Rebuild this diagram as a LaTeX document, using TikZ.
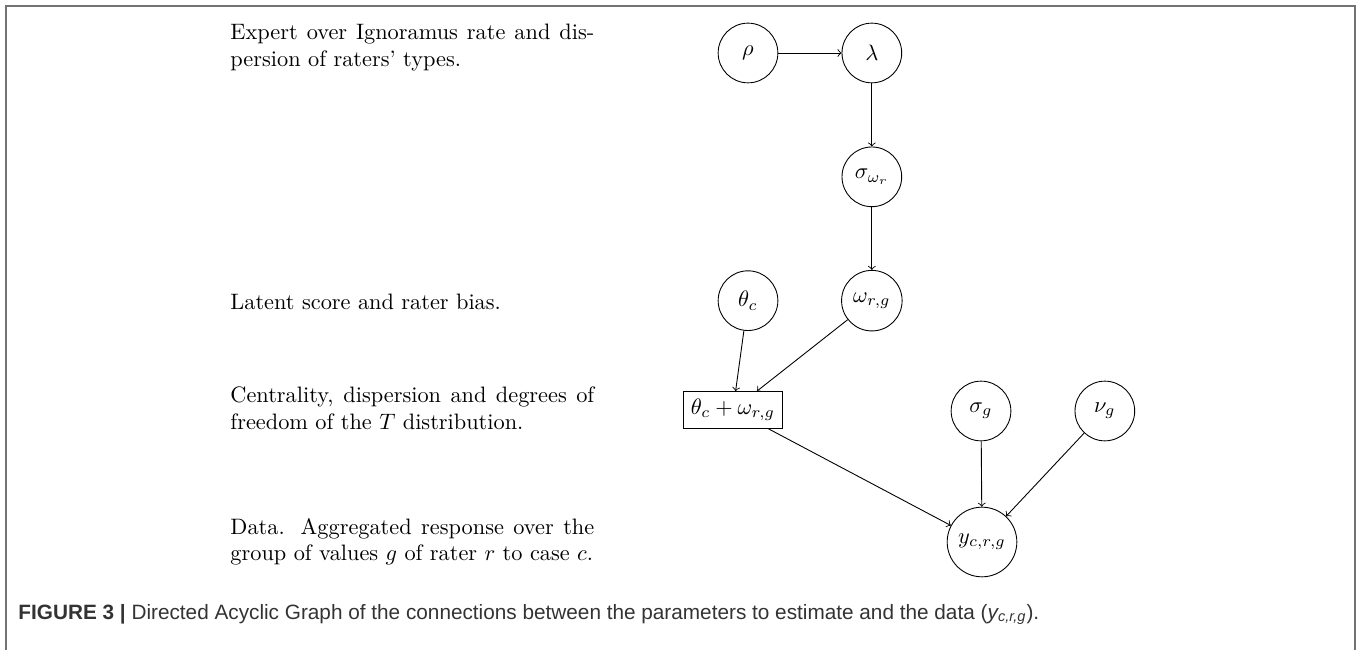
\documentclass[tikz,border=0pt]{standalone}
\usepackage{fontspec}
\newfontfamily\capfont{Liberation Sans}
\usetikzlibrary{positioning}
\tikzset{
  >=to,
  node distance=1.95cm,
  var/.style={circle, draw, minimum size=0.94cm},
  sumbox/.style={rectangle, draw},
  note/.style={anchor=base west, inner sep=0pt, text width=163pt, align=justify},
}

\begin{document}
\begin{tikzpicture}[x=0.015748cm, y=0.015748cm]
      \useasboundingbox (0,0) rectangle (1357,650);
      \draw[black!55, line width=1pt] (6,0) -- (6,644) -- (1355,644) -- (1355,0);

      \node[var]                  (rho)    at (748,597) {$\rho$};
      \node[var,right of=rho]     (lambda) {$\lambda$};
      \node[var,below of=lambda]  (sigw)   {$\sigma_{\omega_r}$};
      \node[var,below of=sigw]    (omega)  {$\omega_{r,g}$};
      \node[var,left of=omega]    (theta)  {$\theta_c$};
      \node[sumbox]               (mu)     at (733,240) {$\theta_c + \omega_{r,g}$};
      \node[var]                  (sigg)   at (981,239) {$\sigma_g$};
      \node[var,right of=sigg]    (nug)    {$\nu_g$};
      \node[var]                  (ycrg)   at (982,108) {$y_{c,r,g}$};

      \draw[->] (rho)    edge (lambda)
                (lambda) edge (sigw)
                (sigw)   edge (omega)
                (theta)  edge (mu)
                (omega)  edge (mu)
                (mu)     edge (ycrg)
                (sigg)   edge (ycrg)
                (nug)    edge (ycrg);

      \node[note] (expert) at (230,610) {Expert over Ignoramus rate and dispersion of raters' types.};
      \node[note] (latent) at (230,340) {Latent score and rater bias.};
      \node[note] (centre) at (230,247) {Centrality, dispersion and degrees of freedom of the $T$ distribution.};
      \node[note] (data)   at (230,116) {Data. Aggregated response over the group of values $g$ of rater $r$ to case $c$.};

      \node[anchor=base west, inner sep=0pt, text=black!80,
            font=\capfont\fontsize{9.3}{11}\selectfont] (caption) at (18,31)
            {\textbf{FIGURE 3 |} Directed Acyclic Graph of the connections between the parameters to estimate and the data (\textit{y\textsubscript{c,r,g}}).};
    \end{tikzpicture}
\end{document}
